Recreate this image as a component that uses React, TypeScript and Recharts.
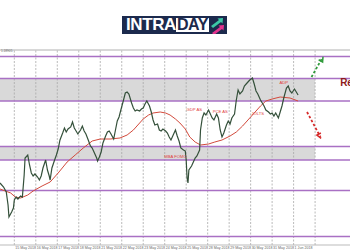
import React from 'react';
import { ComposedChart, Line, XAxis, YAxis, ReferenceLine, ReferenceArea, ReferenceDot } from 'recharts';

// hourly bars, hour 0 = first gridline
const barHours = [
  -16, -12, -9, -7, -6, -3, -1, 0, 2, 4, 7, 9, 11, 12, 15, 17, 19, 21, 23, 26, 28, 30, 32, 35, 37, 39, 40, 42, 45, 47,
  49, 51, 54, 56, 58, 60, 63, 65, 67, 69, 71, 74, 76, 78, 80, 83, 85, 87, 89, 92, 93, 95, 97, 99, 102, 104, 106, 108, 111, 113,
  115, 117, 119, 122, 124, 126, 128, 131, 133, 135, 137, 140, 142, 144, 146, 148, 151, 153, 155, 157, 160, 162, 164, 166, 169, 171,
  173, 175, 178, 180, 182, 184, 186, 189, 191, 192, 193, 194, 195, 198, 200, 202, 204, 207, 208, 210, 212, 214, 217, 219, 221, 223,
  226, 228, 230, 232, 234, 237, 239, 241, 243, 246, 248, 250, 252, 255, 257, 259, 261, 263, 266, 268, 270, 272, 275, 277, 279, 281,
  284, 286, 288, 290, 292, 295, 297, 299, 301, 304, 306, 308, 310, 313, 315, 317,
];
const closes = [
  1.1624, 1.1616, 1.1606, 1.158, 1.1556, 1.1566, 1.1574, 1.159, 1.1596, 1.1592, 1.1598, 1.1596, 1.164, 1.1674, 1.168, 1.166, 1.1644, 1.1638, 1.1642, 1.1636, 1.163, 1.1638, 1.1654, 1.167, 1.165, 1.1638, 1.163, 1.1654, 1.167, 1.168,
  1.1692, 1.171, 1.1724, 1.1734, 1.1726, 1.1732, 1.1736, 1.1746, 1.1734, 1.1728, 1.1722, 1.173, 1.1738, 1.1728, 1.1722, 1.1708, 1.1698, 1.1694, 1.1686, 1.1674, 1.1668, 1.1676, 1.1686, 1.1704, 1.1718, 1.1726, 1.1728, 1.1722, 1.1712, 1.173,
  1.1748, 1.1756, 1.177, 1.179, 1.1804, 1.1806, 1.1802, 1.1784, 1.1774, 1.1768, 1.177, 1.1768, 1.1772, 1.1774, 1.1782, 1.1788, 1.1778, 1.1766, 1.175, 1.174, 1.1742, 1.173, 1.1728, 1.1732, 1.1728, 1.1724,
  1.1716, 1.171, 1.1722, 1.173, 1.1718, 1.1708, 1.1694, 1.169, 1.1688, 1.167, 1.1634, 1.1624, 1.165, 1.1658, 1.1666, 1.1674, 1.1678, 1.169, 1.173, 1.1754, 1.1764, 1.176, 1.177, 1.1762, 1.1754, 1.175,
  1.1762, 1.1754, 1.173, 1.1716, 1.1724, 1.174, 1.1748, 1.1742, 1.1754, 1.1762, 1.179, 1.181, 1.1802, 1.1808, 1.1818, 1.1822, 1.1826, 1.183, 1.1834, 1.1822, 1.1808, 1.1802, 1.179, 1.1784, 1.1778, 1.177,
  1.1766, 1.1762, 1.1764, 1.1758, 1.1764, 1.1754, 1.1766, 1.1778, 1.1794, 1.1814, 1.1818, 1.1808, 1.1804, 1.1812, 1.1806, 1.18,
];

// moving average
const maHours = [-16, -4, 1, 7, 15, 21, 31, 40, 49, 59, 68, 77, 87, 96, 107, 118, 126, 133, 138, 144, 150, 155, 163, 169, 174, 180, 185, 191, 196, 202, 208, 217, 224, 232, 241, 248, 255, 261, 268, 275, 281, 288, 297, 308, 317];
const maValues = [1.1612, 1.1604, 1.1596, 1.1594, 1.16, 1.1608, 1.1618, 1.1626, 1.1644, 1.1666, 1.168, 1.1694, 1.1708, 1.1712, 1.1712, 1.1714, 1.172, 1.173, 1.174, 1.1752, 1.176, 1.1764, 1.1766, 1.1764, 1.176, 1.1752, 1.1744, 1.1732, 1.1716, 1.1706, 1.17, 1.1702, 1.1706, 1.171, 1.1718, 1.1726, 1.1738, 1.175, 1.1764, 1.1778, 1.1788, 1.1792, 1.1796, 1.1794, 1.1788];

const levels = [1.1877, 1.1833, 1.1788, 1.1697, 1.167, 1.1609, 1.1517];
const zoneLows = [1.1788, 1.167];
const zoneHighs = [1.1833, 1.1697];

const dayTicks = [0, 24, 48, 72, 96, 120, 144, 168, 192, 216, 240, 264, 288, 312, 336];
const dayLabels = ['15 May 2018', '16 May 2018', '17 May 2018', '18 May 2018', '21 May 2018', '22 May 2018', '23 May 2018', '24 May 2018', '25 May 2018', '28 May 2018', '29 May 2018', '30 May 2018', '31 May 2018', '1 Jun 2018', ''];

const eventNames = ['MBA FOMC', 'GDP AS', 'PCE AS', 'JOLTS', 'ADP'];
const eventHours = [180, 201, 230, 272, 301];
const eventPrices = [1.1676, 1.177, 1.1766, 1.1762, 1.1824];

const upArrow = [{ x: 332, y: 1.1836 }, { x: 344, y: 1.1874 }];
const downArrow = [{ x: 327, y: 1.1766 }, { x: 342, y: 1.1716 }];

const priceData = barHours.map((h, i) => ({ h, close: closes[i] }));
const maData = maHours.map((h, i) => ({ h, ma: maValues[i] }));

const arrowShape = (color: string) => (p: any) => {
  const { x1, y1, x2, y2 } = p;
  const a = Math.atan2(y2 - y1, x2 - x1);
  const s = 4;
  const pts = [
    [x2 + Math.cos(a) * 1.5, y2 + Math.sin(a) * 1.5],
    [x2 - Math.cos(a - 0.6) * s, y2 - Math.sin(a - 0.6) * s],
    [x2 - Math.cos(a + 0.6) * s, y2 - Math.sin(a + 0.6) * s],
  ];
  return (
    <g>
      <line x1={x1} y1={y1} x2={x2} y2={y2} stroke={color} strokeWidth={1.8} strokeDasharray="2.5 2" />
      <polyline points={pts.map((q) => q.join(',')).join(' ')} fill="none" stroke={color} strokeWidth={1.5} />
    </g>
  );
};

const DayTick = (props: any) => {
  const { x, y, payload } = props;
  const i = dayTicks.indexOf(payload.value);
  return (
    <text x={x + 1} y={y + 1.5} fontSize={3.6} fill="#666" fontFamily="Arial, sans-serif">
      {dayLabels[i]}
    </text>
  );
};

const Logo = () => (
  <div
    style={{
      position: 'absolute', left: 122, top: 16, width: 105, height: 18,
      background: '#1c2a4d', display: 'flex', alignItems: 'center',
      fontFamily: '"Liberation Sans", Arial, sans-serif', fontWeight: 700,
    }}
  >
    <span style={{ color: '#fff', fontSize: 17, marginLeft: 4, lineHeight: '18px', letterSpacing: -0.4 }}>INTRA</span>
    <span style={{ background: '#fff', color: '#1c2a4d', fontSize: 16, lineHeight: '14px', padding: '0 1px', letterSpacing: -0.4 }}>DAY</span>
    <svg width={15} height={17} style={{ marginLeft: 1 }}>
      <polygon points="1,9 9,3 7.5,1.5 13,1 12.5,6.5 11,5 3,11" fill="#3cc9a6" />
      <polygon points="2,16 10,10 8.5,8.5 14,8 13.5,13.5 12,12 4,18" fill="#e3338e" />
    </svg>
  </div>
);

export default function App() {
  return (
    <div style={{ position: 'absolute', left: 0, top: 0, width: 350, height: 250, background: '#fff', overflow: 'hidden' }}>
      <Logo />
      <ComposedChart width={350} height={250} margin={{ top: 50, right: 0, bottom: 0, left: 0 }}>
        <XAxis
          type="number" dataKey="h" domain={[-16, 375]} ticks={dayTicks} interval={0} allowDataOverflow
          height={5} tickLine={false} tickSize={0} axisLine={{ stroke: '#bbb' }} tick={<DayTick />}
        />
        <YAxis type="number" hide domain={[1.15, 1.189]} allowDataOverflow />
        {zoneLows.map((lo, i) => (
          <ReferenceArea key={i} x1={-16} x2={336} y1={lo} y2={zoneHighs[i]} fill="#d9d9d9" fillOpacity={1} stroke="none" />
        ))}
        {dayTicks.map((t) => (
          <ReferenceLine key={'g' + t} x={t} stroke="#a8a8a8" strokeWidth={0.8} strokeDasharray="2 1.5" />
        ))}
        <ReferenceLine y={1.189} stroke="#b0b0b0" strokeWidth={1} />
        {levels.map((lv) => (
          <ReferenceLine key={lv} y={lv} stroke="#a970c4" strokeWidth={1.3} />
        ))}
        <Line data={maData} dataKey="ma" stroke="#d24a3c" strokeWidth={1} dot={false} isAnimationActive={false} />
        <Line data={priceData} dataKey="close" stroke="#34503a" strokeWidth={1.2} dot={false} isAnimationActive={false} />
        {eventNames.map((n, i) => (
          <ReferenceDot
            key={n} x={eventHours[i]} y={eventPrices[i]} r={0}
            shape={(p: any) => (
              <text x={p.cx} y={p.cy} textAnchor="middle" dominantBaseline="middle" fontSize={4.2} fill="#e0403a" fontFamily="Arial, sans-serif">{n}</text>
            )}
          />
        ))}
        <ReferenceLine segment={upArrow} shape={arrowShape('#2f9a3a')} />
        <ReferenceLine segment={downArrow} shape={arrowShape('#d62a2a')} />
        <ReferenceDot
          x={364} y={1.1824} r={0}
          shape={(p: any) => (
            <text x={p.cx} y={p.cy} dominantBaseline="middle" fontSize={10} fontWeight={700} fill="#8e1b1b" fontFamily="Arial, sans-serif">Resistance</text>
          )}
        />
        <ReferenceDot
          x={-15} y={1.1887} r={0}
          shape={(p: any) => (
            <text x={p.cx} y={p.cy} dominantBaseline="middle" fontSize={3.2} fill="#666" fontFamily="Arial, sans-serif">1.18905</text>
          )}
        />
      </ComposedChart>
    </div>
  );
}
